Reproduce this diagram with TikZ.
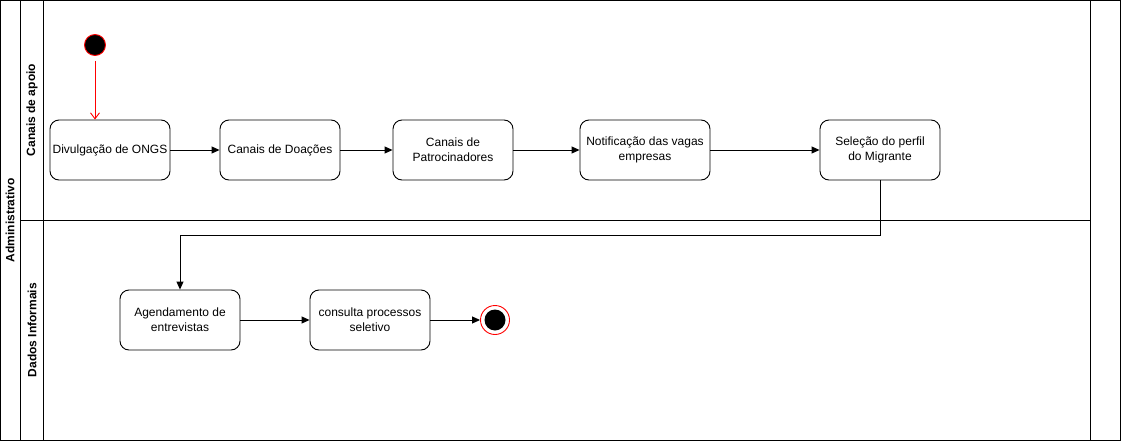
\documentclass[tikz,border=0pt]{standalone}
\usepackage{fontspec}
\setmainfont{Liberation Sans}
\usetikzlibrary{arrows.meta}
\begin{document}
\begin{tikzpicture}[x=1pt,y=-1pt,
  every node/.style={font=\fontsize{12}{15}\selectfont},
  act/.style={draw, line width=0.9pt, rounded corners=9pt, minimum width=120pt, minimum height=60pt, align=center, inner sep=2pt},
  flow/.style={draw, line width=0.9pt, -{Triangle[length=8pt,width=7pt]}},
  lane/.style={draw, line width=0.9pt},
  lanelabel/.style={rotate=90, font=\fontsize{12}{15}\selectfont\bfseries}
]
\useasboundingbox (0,0) rectangle (1122,442);
% pool and lanes
\draw[lane] (0.5,0.5) rectangle (1120.5,440.5);
\draw[lane] (20,0.5) -- (20,440.5);
\draw[lane] (43,0.5) -- (43,440.5);
\draw[lane] (1090,0.5) -- (1090,440.5);
\draw[lane] (20,220) -- (1090,220);
\node[lanelabel] (pool) at (10,220) {Administrativo};
\node[lanelabel] (l1) at (32,110) {Canais de apoio};
\node[lanelabel] (l2) at (32,330) {Dados Informais};
% start
\node[circle, draw=red, fill=black, line width=0.9pt, minimum size=21pt, inner sep=0pt] (start) at (95,45) {};
% activities
\node[act] (a1) at (110,150) {Divulgação de ONGS};
\node[act] (a2) at (280,150) {Canais de Doações};
\node[act] (a3) at (453,150) {Canais de\\Patrocinadores};
\node[act, minimum width=130pt] (a4) at (645,150) {Notificação das vagas\\empresas};
\node[act] (a5) at (880,150) {Seleção do perfil\\do Migrante};
\node[act] (a6) at (180,320) {Agendamento de\\entrevistas};
\node[act] (a7) at (370,320) {consulta processos\\seletivo};
% end
\node[circle, draw=red, fill=white, line width=0.9pt, minimum size=29pt, inner sep=0pt] (end) at (495,320) {};
\node[circle, fill=black, minimum size=21pt, inner sep=0pt] (endin) at (end.center) {};
% connectors
\draw[red, line width=0.9pt, -{Straight Barb[length=6pt,width=9pt]}] ([yshift=-5pt]start.south) -- (start.south |- a1.north);
\draw[flow] (a1) -- (a2);
\draw[flow] (a2) -- (a3);
\draw[flow] (a3) -- (a4);
\draw[flow] (a4) -- (a5);
\coordinate (c1) at (880,235);
\coordinate (c2) at (180,235);
\draw[flow] (a5.south) -- (c1) -- (c2) -- (a6.north);
\draw[flow] (a6) -- (a7);
\draw[flow] (a7) -- (end);
\end{tikzpicture}
\end{document}
